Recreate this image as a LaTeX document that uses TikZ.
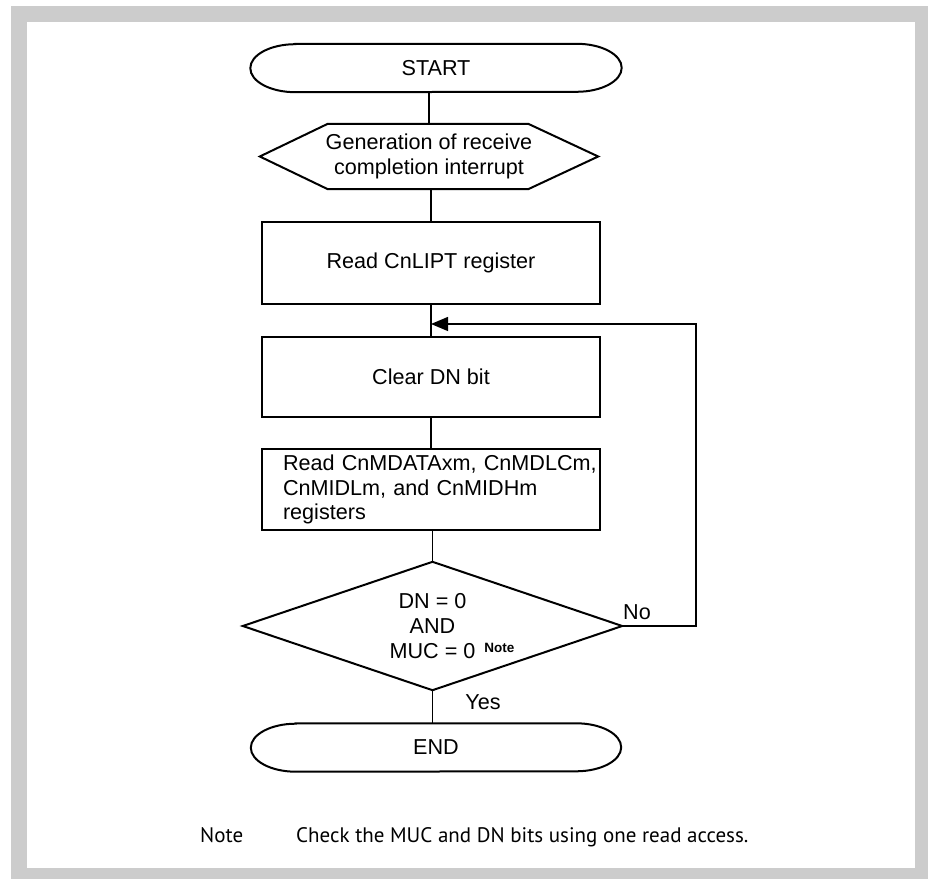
\documentclass[tikz,border=0pt]{standalone}
\usepackage{fontspec}
\setmainfont{Liberation Sans}
\newfontfamily\notefont{PT Sans}
\usetikzlibrary{arrows.meta,calc}
\newcommand\drawterm[1]{\draw[shapeline] ([xshift=45pt]#1.north west) -- ([xshift=-45pt]#1.north east) arc[start angle=90,end angle=-90,x radius=45pt,y radius=24pt] -- ([xshift=45pt]#1.south west) arc[start angle=270,end angle=90,x radius=45pt,y radius=24pt] -- cycle;}
\begin{document}
\begin{tikzpicture}[x=1pt,y=1pt,
  every node/.style={font=\fontsize{21.6}{24.8}\selectfont},
  shapeline/.style={line width=2pt, line join=miter},
  conn/.style={line width=1.3pt},
  blk/.style={minimum width=338pt, minimum height=81pt, inner sep=0pt, draw, shapeline},
  ghost/.style={inner sep=0pt, draw=none},
  notestyle/.style={anchor=base west, inner sep=0pt, font=\notefont\fontsize{21}{24}\selectfont}
]
\useasboundingbox (0,0) rectangle (928,879);
\fill[black!20] (11,0) rectangle (928,873);
\fill[white] (27,11) rectangle (915,857);

% nodes
\node[ghost, minimum width=371pt, minimum height=48pt] (start) at (436,811) {START};
\drawterm{start}

\node[ghost, minimum width=338pt, minimum height=65pt, align=center] (prep) at (429,722.5) {Generation of receive\\completion interrupt};
\draw[shapeline] (prep.west) -- ([xshift=68pt]prep.north west) -- ([xshift=-70pt]prep.north east) -- (prep.east) -- ([xshift=-70pt]prep.south east) -- ([xshift=68pt]prep.south west) -- cycle;

\node[blk, minimum height=82pt] (rd1) at (431,616) {Read CnLIPT register};
\node[blk, minimum height=80pt] (clr) at (431,502) {Clear DN bit};
\node[blk, text width=296pt, align=left] (rd2) at (431,389.5) {\mbox{Read CnMDATAxm, CnMDLCm,}\\\mbox{CnMIDLm, and CnMIDHm}\\\mbox{registers}};

\node[ghost, minimum width=379pt, minimum height=128pt, align=center] (dec) at (432.5,253) {DN = 0\\AND\\MUC = 0\rlap{\hspace{9pt}\raisebox{6pt}{\fontsize{13.5}{13.5}\selectfont\bfseries Note}}};
\draw[shapeline] (dec.north) -- (dec.east) -- (dec.south) -- (dec.west) -- cycle;

\node[ghost, minimum width=370pt, minimum height=48pt] (end) at (436,131.5) {END};
\drawterm{end}

% connectors
\draw[conn] (prep.north) -- (prep.north |- start.south);
\draw[conn] (rd1.north) -- (rd1.north |- prep.south);
\draw[conn] (rd1.south) -- (clr.north);
\draw[conn] (clr.south) -- (rd2.north);
\draw[conn] (dec.north |- rd2.south) -- (dec.north);
\draw[conn] (dec.south) -- (dec.south |- end.north);

\coordinate (loopc) at (696,555);
\draw[conn, -{Triangle[length=17pt,width=14pt]}] (dec.east) -- (dec.east -| loopc) -- (loopc) -- (rd1.south |- loopc);

% labels
\node[ghost] (no) at (637,267) {No};
\node[ghost] (yes) at (483,177) {Yes};

\node[notestyle] (notelbl) at (200,37) {Note};
\node[notestyle] (notetxt) at (296,37) {Check the MUC and DN bits using one read access.};
\end{tikzpicture}
\end{document}
